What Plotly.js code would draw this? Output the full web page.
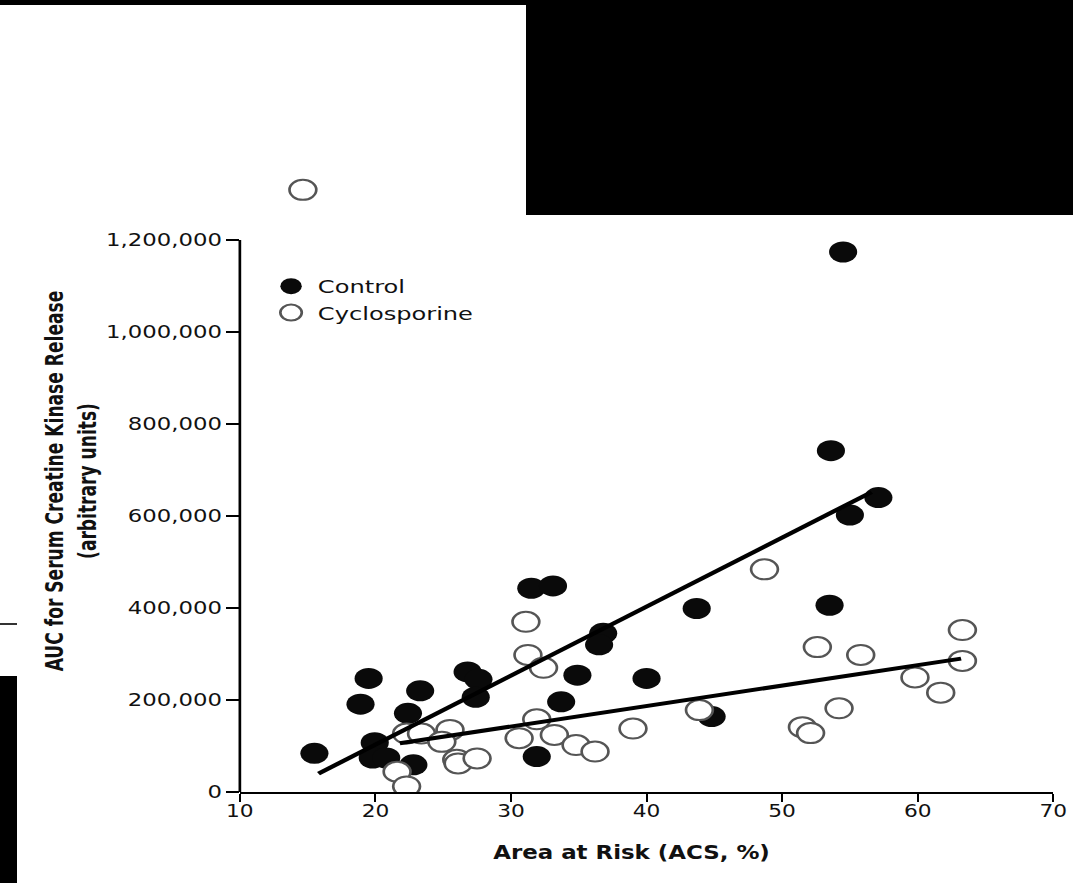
<!DOCTYPE html>
<html>
<head>
<meta charset="utf-8">
<script src="https://cdn.plot.ly/plotly-3.0.1.min.js"></script>
<style>
  html, body { margin: 0; padding: 0; background: #fff; overflow: hidden; }
  #wrap { position: absolute; left: 0; top: 0; width: 801px; height: 883px;
          transform: scaleX(1.34); transform-origin: 0 0; }
  .blk { position: absolute; background: #000; }
</style>
</head>
<body>
<div id="wrap"><div id="chart" style="width:801px;height:883px;"></div></div>
<div class="blk" style="left:0;top:0;width:526px;height:5px;"></div>
<div class="blk" style="left:526px;top:0;width:547px;height:215px;"></div>
<div class="blk" style="left:0;top:676px;width:17px;height:207px;"></div>
<div class="blk" style="left:0;top:623px;width:17px;height:2px;background:#333;"></div>
<script>
// Control group (filled circles)
const controlX = [15.5, 19.5, 18.9, 23.3, 22.4, 19.95, 19.8, 20.8, 22.8, 26.8, 27.6, 27.4, 31.5, 33.1, 36.8, 36.5, 34.9, 40.0, 33.7, 31.9, 43.7, 44.8, 53.5, 54.5, 53.6, 57.1, 55.0];
const controlY = [84000, 247000, 191000, 220000, 171000, 107000, 74000, 74000, 59000, 261000, 245000, 206000, 443000, 448000, 345000, 320000, 254000, 247000, 196000, 77000, 399000, 164000, 406000, 1174000, 742000, 640000, 602000];

// Cyclosporine group (open circles)
const cycloX = [14.65, 22.3, 23.4, 25.5, 24.9, 21.6, 22.3, 26.0, 26.1, 27.5, 31.1, 31.25, 32.4, 31.9, 30.6, 33.2, 34.8, 36.2, 39.0, 48.7, 52.6, 55.8, 63.3, 63.3, 59.8, 61.7, 43.9, 54.2, 51.5, 52.1];
const cycloY = [1309000, 127000, 127000, 135000, 109000, 44000, 12000, 70000, 62000, 73000, 370000, 298000, 270000, 158000, 117000, 124000, 102000, 88000, 138000, 484000, 315000, 298000, 352000, 285000, 249000, 216000, 178000, 182000, 141000, 128000];

// Regression line endpoints
const controlFitX = [15.8, 56.6];
const controlFitY = [40000, 652000];
const cycloFitX = [21.8, 63.2];
const cycloFitY = [106000, 290000];

// Axis ticks
const xTicks = [10, 20, 30, 40, 50, 60, 70];
const yTicks = [0, 200000, 400000, 600000, 800000, 1000000, 1200000];
const yAxisMax = 1200000;

const traces = [
  { x: controlX, y: controlY, type: 'scatter', mode: 'markers', name: 'Control',
    marker: { symbol: 'circle', size: 21, color: '#0a0a0a', line: { width: 0 } } },
  { x: cycloX, y: cycloY, type: 'scatter', mode: 'markers', name: 'Cyclosporine',
    marker: { symbol: 'circle', size: 20, color: '#ffffff', line: { width: 2, color: '#555' } } },
  { x: controlFitX, y: controlFitY, type: 'scatter', mode: 'lines', showlegend: false,
    line: { color: '#000', width: 4 } },
  { x: cycloFitX, y: cycloFitY, type: 'scatter', mode: 'lines', showlegend: false,
    line: { color: '#000', width: 4 } }
];

const tickFont = { family: 'DejaVu Sans, sans-serif', size: 17, color: '#111' };
const titleFont = { family: '"DejaVu Sans Condensed", sans-serif', size: 19, color: '#111' };

// plot area spans from the axis bottom (py 792) up to py 170; axis itself ends at 1,200,000 (py 240)
const plotTop = 170, plotBottom = 792, axisTop = 240;
const yRangeTop = yAxisMax * (plotBottom - plotTop) / (plotBottom - axisTop);

const layout = {
  width: 801, height: 883,
  margin: { l: 179, r: 15, t: plotTop, b: 883 - plotBottom },
  paper_bgcolor: '#fff', plot_bgcolor: '#fff',
  showlegend: true,
  legend: { x: 0.03, y: (plotBottom - 268) / (plotBottom - plotTop), xanchor: 'left', yanchor: 'top',
            bgcolor: 'rgba(0,0,0,0)', borderwidth: 0,
            font: { family: 'DejaVu Sans, sans-serif', size: 18, color: '#111' } },
  xaxis: {
    range: [10, 70], tickvals: xTicks, ticktext: xTicks.map(String),
    showgrid: false, zeroline: false, showline: true, linecolor: '#000', linewidth: 2,
    ticks: 'outside', ticklen: 8, tickwidth: 1.5, tickcolor: '#000',
    ticklabelstandoff: -7,
    tickfont: { family: '"DejaVu Sans Condensed", sans-serif', size: 18, color: '#111' },
    automargin: false
  },
  yaxis: {
    range: [0, yRangeTop], tickvals: yTicks, tickformat: ',.0f',
    showgrid: false, zeroline: false, showline: false,
    ticks: 'outside', ticklen: 9, tickwidth: 1.5, tickcolor: '#000',
    tickfont: tickFont,
    title: { text: '<b>AUC for Serum Creatine Kinase Release<br>(arbitrary units)</b>', font: titleFont, standoff: 1 },
    automargin: false
  },
  annotations: [
    { text: '<b>Area at Risk (ACS, %)</b>', xref: 'paper', yref: 'paper',
      x: 0.482, y: -0.097, xanchor: 'center', yanchor: 'middle', showarrow: false,
      font: titleFont }
  ],
  shapes: [
    { type: 'line', xref: 'paper', yref: 'y', x0: 0, x1: 0, y0: 0, y1: yAxisMax,
      line: { color: '#000', width: 2 } }
  ]
};

Plotly.newPlot('chart', traces, layout, { displayModeBar: false, staticPlot: true });
</script>
</body>
</html>
